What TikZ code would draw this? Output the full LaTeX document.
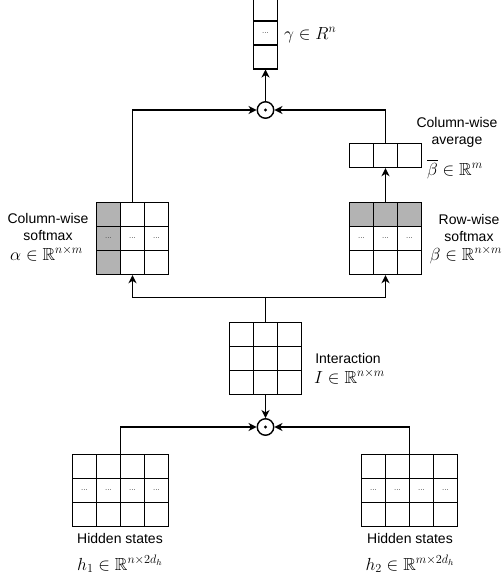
\RequirePackage{fix-cm}
\documentclass[tikz,border=0pt]{standalone}
\usepackage{amsmath,amssymb}
\usepackage{fontspec}
\setsansfont{Liberation Sans}
\usetikzlibrary{matrix,arrows.meta}

\definecolor{shade}{RGB}{179,179,179}

\tikzset{
  lw/.style={line width=1.4pt},
  cell/.style={draw, lw, minimum width=24pt, minimum height=24pt,
    inner sep=0pt, outer sep=0pt, font=\sffamily\fontsize{8}{8}\selectfont, text=black!70},
  shaded/.style={fill=shade},
  grid/.style={matrix of nodes, nodes in empty cells, nodes={cell},
    column sep=-1.4pt, row sep=-1.4pt, inner sep=0pt, outer sep=0pt},
  odot/.style={circle, draw, lw, minimum size=16.5pt, inner sep=0pt},
  arr/.style={lw, -{Stealth[length=8pt,width=8pt,inset=2.4pt]}},
  txt/.style={font=\sffamily\fontsize{14}{16}\selectfont, inner sep=0pt, anchor=base},
  mth/.style={font=\fontsize{17.5}{20}\selectfont, inner sep=0pt, anchor=base},
}

\begin{document}
\begin{tikzpicture}[x=1pt,y=-1pt]
\useasboundingbox (0,0) rectangle (502,581);

% output vector gamma
\matrix[grid, anchor=south] (gamma) at (265.5,69.5) {
  \\
  ...\\
  \\
};

% element-wise products
\node[odot] (m1) at (265.5,110) {};
\node[odot] (m2) at (265.5,427) {};
\fill (m1.center) circle (1.7pt);
\fill (m2.center) circle (1.7pt);

% column-wise average of beta
\matrix[grid] (avg) at (385.5,155.5) {
  & & \\
};

% column-wise softmax alpha
\matrix[grid] (alpha) at (132.5,238.5) {
  |[shaded]| & & \\
  |[shaded]| ... & ... & ... \\
  |[shaded]| & & \\
};

% row-wise softmax beta
\matrix[grid] (beta) at (385.5,238.5) {
  |[shaded]| & |[shaded]| & |[shaded]| \\
  ... & ... & ... \\
  & & \\
};

% interaction matrix
\matrix[grid] (I) at (265.5,358.5) {
  & & \\
  & & \\
  & & \\
};

% hidden states
\matrix[grid] (h1) at (120.5,490.5) {
  & & & \\
  ... & ... & ... & ... \\
  & & & \\
};
\matrix[grid] (h2) at (409.5,490.5) {
  & & & \\
  ... & ... & ... & ... \\
  & & & \\
};

% connectors
\coordinate (split) at (265.5,297.5);
\draw[lw] (I.north) -- (split);
\draw[arr] (split) -| (alpha.south);
\draw[arr] (split) -| (beta.south);
\draw[arr] (I.south) -- (m2.north);
\draw[arr] (h1.north) |- (m2.west);
\draw[arr] (h2.north) |- (m2.east);
\draw[arr] (beta.north) -- (avg.south);
\draw[arr] (alpha.north) |- (m1.west);
\draw[arr] (avg.north) |- (m1.east);
\draw[arr] (m1.north) -- (gamma.south);

% labels (placed by baseline)
\node[mth, anchor=base west] (lgamma) at (284,39) {$\gamma \in R^n$};

\node[txt] (lavg1) at (457,127.5) {Column-wise};
\node[txt] (lavg2) at (457,144) {average};
\node[mth] (lavg3) at (455,175) {$\overline{\beta} \in \mathbb{R}^m$};

\node[txt] (lal1) at (48,223) {Column-wise};
\node[txt] (lal2) at (48,240) {softmax};
\node[mth] (lal3) at (46.5,260) {$\alpha \in \mathbb{R}^{n\times m}$};

\node[txt] (lbe1) at (469,224) {Row-wise};
\node[txt] (lbe2) at (469,241.5) {softmax};
\node[mth] (lbe3) at (466,260) {$\beta \in \mathbb{R}^{n\times m}$};

\node[txt] (lI1) at (348,363) {Interaction};
\node[mth] (lI2) at (349.5,383) {$I \in \mathbb{R}^{n\times m}$};

\node[txt] (lh11) at (120,543.5) {Hidden states};
\node[mth] (lh12) at (120,570) {$h_1 \in \mathbb{R}^{n\times 2d_h}$};
\node[txt] (lh21) at (410,543.5) {Hidden states};
\node[mth] (lh22) at (410,570) {$h_2 \in \mathbb{R}^{m\times 2d_h}$};
\end{tikzpicture}
\end{document}
